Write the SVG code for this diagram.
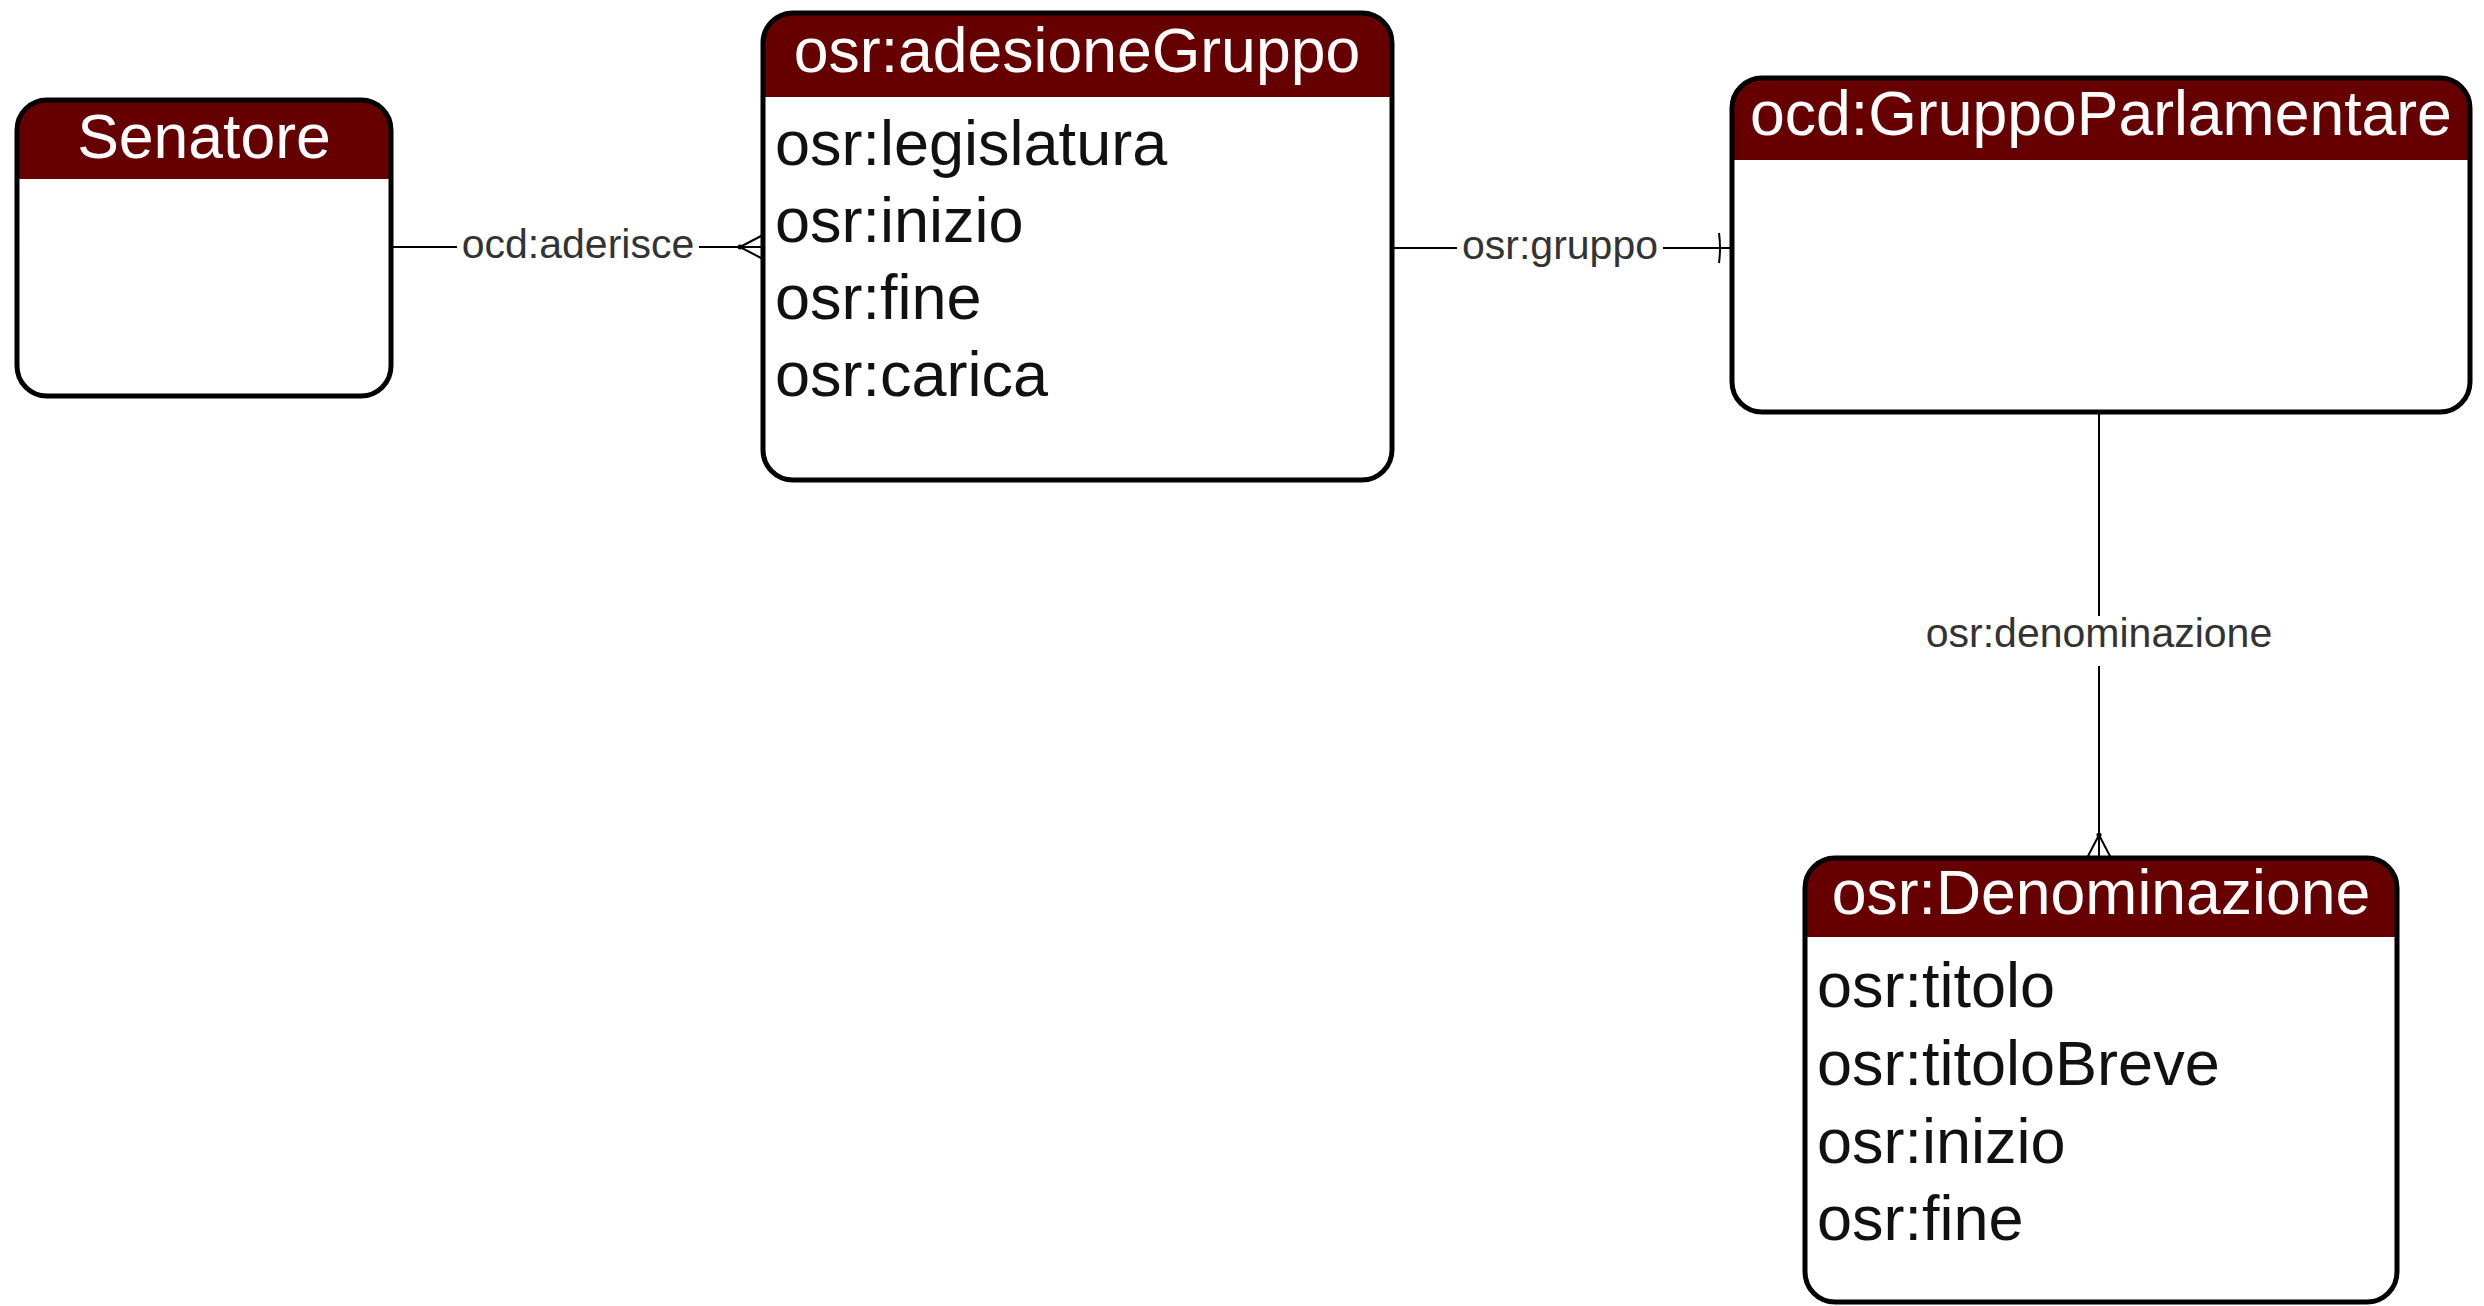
<svg xmlns="http://www.w3.org/2000/svg" width="2484" height="1306" viewBox="0 0 2484 1306">
<style>
.box{fill:none;stroke:#000;stroke-width:5}
.head{fill:#660000}
.title{font-family:"Liberation Sans",Arial,sans-serif;font-size:62.5px;fill:#fff;text-anchor:middle}
.attr{font-family:"Liberation Sans",Arial,sans-serif;font-size:63px;fill:#111}
.edge{fill:none;stroke:#000;stroke-width:2}
.lbl{font-family:"Liberation Sans",Arial,sans-serif;font-size:41px;fill:#333;text-anchor:middle}
.lblbg{fill:#fff}
</style>
<defs>
<marker id="many" viewBox="0 -14 26 28" markerWidth="26" markerHeight="28" refX="25" refY="0" markerUnits="userSpaceOnUse" orient="auto">
<path d="M2,0 L25,-12 M2,0 L25,12" fill="none" stroke="#000" stroke-width="2"/>
<circle cx="2" cy="0" r="2.5" fill="#000"/>
</marker>
<marker id="one" viewBox="0 -16 26 32" markerWidth="26" markerHeight="32" refX="25" refY="0" markerUnits="userSpaceOnUse" orient="auto">
<path d="M12,-15 Q14,0 12,15" fill="none" stroke="#000" stroke-width="2"/>
</marker>
</defs>
<rect width="2484" height="1306" fill="#fff"/>
<g id="connectors">
<g id="e-aderisce">
<path class="edge" d="M391,247 H763" marker-end="url(#many)"/>
<rect class="lblbg" x="457" y="228" width="242" height="40"/>
<text class="lbl" x="578" y="258">ocd:aderisce</text>
</g>
<g id="e-gruppo">
<path class="edge" d="M1392,248 H1732" marker-end="url(#one)"/>
<rect class="lblbg" x="1457" y="228" width="206" height="44"/>
<text class="lbl" x="1560" y="259">osr:gruppo</text>
</g>
<g id="e-denominazione">
<path class="edge" d="M2099,412 V858" marker-end="url(#many)"/>
<rect class="lblbg" x="1918" y="616" width="362" height="50"/>
<text class="lbl" x="2099" y="647">osr:denominazione</text>
</g>
</g>
<g id="senatore">
<path class="head" d="M17,130 A30,30 0 0 1 47,100 H361 A30,30 0 0 1 391,130 V179 H17 Z"/>
<rect class="box" x="17" y="100" width="374" height="296" rx="30" ry="30"/>
<text class="title" x="204" y="158">Senatore</text>
</g>
<g id="adesioneGruppo">
<path class="head" d="M763,43 A30,30 0 0 1 793,13 H1362 A30,30 0 0 1 1392,43 V97 H763 Z"/>
<rect class="box" x="763" y="13" width="629" height="467" rx="30" ry="30"/>
<text class="title" x="1077" y="72">osr:adesioneGruppo</text>
<text class="attr" x="775" y="165">osr:legislatura</text>
<text class="attr" x="775" y="242">osr:inizio</text>
<text class="attr" x="775" y="319">osr:fine</text>
<text class="attr" x="775" y="396">osr:carica</text>
</g>
<g id="gruppoParlamentare">
<path class="head" d="M1732,108 A30,30 0 0 1 1762,78 H2440 A30,30 0 0 1 2470,108 V160 H1732 Z"/>
<rect class="box" x="1732" y="78" width="738" height="334" rx="30" ry="30"/>
<text class="title" x="2101" y="135">ocd:GruppoParlamentare</text>
</g>
<g id="denominazione">
<path class="head" d="M1805,888 A30,30 0 0 1 1835,858 H2367 A30,30 0 0 1 2397,888 V937 H1805 Z"/>
<rect class="box" x="1805" y="858" width="592" height="444" rx="30" ry="30"/>
<text class="title" x="2101" y="914">osr:Denominazione</text>
<text class="attr" x="1817" y="1007">osr:titolo</text>
<text class="attr" x="1817" y="1085">osr:titoloBreve</text>
<text class="attr" x="1817" y="1163">osr:inizio</text>
<text class="attr" x="1817" y="1240">osr:fine</text>
</g>
</svg>
